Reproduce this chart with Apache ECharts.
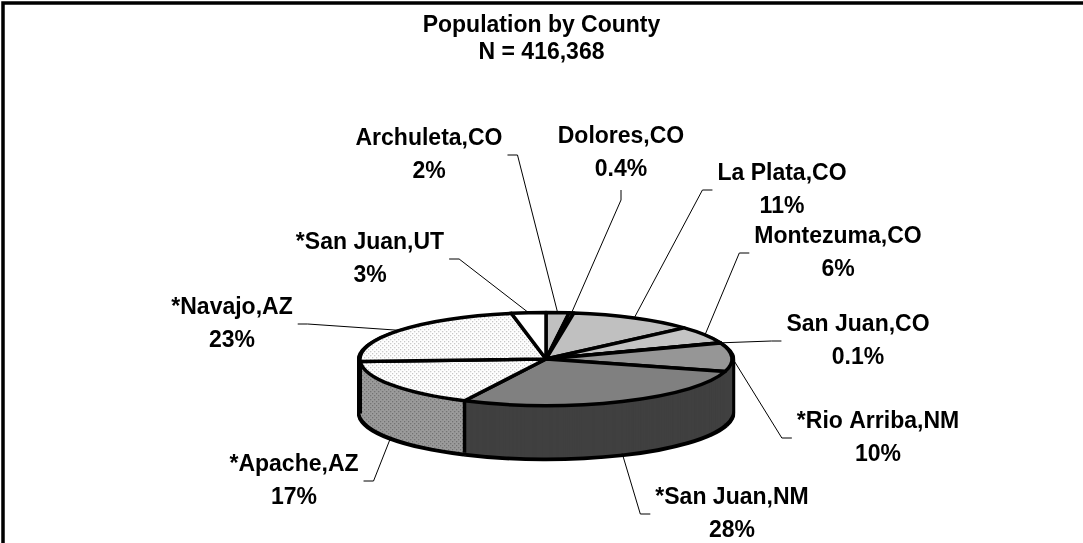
<!DOCTYPE html>
<html>
<head>
<meta charset="utf-8">
<script src="https://cdn.jsdelivr.net/npm/echarts@6/dist/echarts.min.js"></script>
<style>
  html, body { margin: 0; padding: 0; background: #fff; overflow: hidden; }
  .layer { position: absolute; left: 0; top: 0; width: 1083px; height: 543px; }
  /* the pie body is drawn flat and squashed into a tilted disc */
  #body svg { overflow: visible; }
  #body path {
    transform-box: view-box;
    transform-origin: 0 359px;
    transform: scaleY(0.25);
    vector-effect: non-scaling-stroke;
  }
</style>
</head>
<body>
<div id="body" class="layer"></div>
<div id="labels" class="layer"></div>
<script>
  // data
  const counties = ['Archuleta,CO', 'Dolores,CO', 'La Plata,CO', 'Montezuma,CO', 'San Juan,CO',
    '*Rio Arriba,NM', '*San Juan,NM', '*Apache,AZ', '*Navajo,AZ', '*San Juan,UT'];
  const shares = [2, 0.4, 11, 6, 0.1, 10, 28, 17, 23, 3];

  // stippled fill, drawn 4x taller because the body gets squashed
  function stipple(bg, dot) {
    let c = document.createElement('canvas');
    c.width = 4; c.height = 16;
    let ctx = c.getContext('2d');
    ctx.fillStyle = bg; ctx.fillRect(0, 0, 4, 16);
    ctx.fillStyle = dot;
    ctx.fillRect(0, 0, 1, 4);
    ctx.fillRect(2, 8, 1, 4);
    return {image: c, repeat: 'repeat'};
  }
  const lightDots = stipple('#ffffff', '#9a9a9a');
  const greyDots = stipple('#9c9c9c', '#505050');

  // styles
  const topColors = ['#c0c0c0', '#c0c0c0', '#c0c0c0', '#c4c4c4', '#969696',
    '#969696', '#808080', lightDots, lightDots, '#ffffff'];
  const sideColors = ['#808080', '#808080', '#808080', '#808080', '#505050',
    '#404040', '#404040', greyDots, greyDots, '#a0a0a0'];
  // label centres, picked to sit where the original has them
  const labelSpots = [[429, 155], [621, 153], [782, 190], [838, 253], [858, 341],
    [878, 438], [732, 514], [294, 481], [232, 324], [370, 259]];

  const CX = 546, CY = 359, R = 186, TILT = 0.25, DEPTH = 52;
  const FONT = "'Liberation Sans', Arial, sans-serif";

  function sliceData(colors) {
    return counties.map((name, i) => ({name: name, value: shares[i], itemStyle: {color: colors[i]}}));
  }

  function disc(d, radius, colors, extra) {
    return Object.assign({
      type: 'pie',
      center: [CX, CY + d / TILT],
      radius: radius,
      startAngle: 90,
      clockwise: true,
      silent: true,
      label: {show: false},
      labelLine: {show: false},
      emphasis: {disabled: true},
      data: sliceData(colors)
    }, extra || {});
  }

  // body: black outline shell, then the side, then the top face
  const black = counties.map(() => '#000');
  let bodySeries = [];
  for (let d = DEPTH + 3; d >= 0; d--) {
    bodySeries.push(disc(d, R + 3, black, {itemStyle: {borderWidth: 0}}));
  }
  for (let d = DEPTH; d >= 1; d--) {
    bodySeries.push(disc(d, R, sideColors, {itemStyle: {borderWidth: 0}}));
  }
  bodySeries.push(disc(0, R, topColors, {
    itemStyle: {borderColor: '#000', borderWidth: 3.5, borderJoin: 'round'}
  }));

  let bodyChart = echarts.init(document.getElementById('body'), null, {renderer: 'svg'});
  bodyChart.setOption({animation: false, series: bodySeries});

  // labels, leader lines, title and frame
  let labelChart = echarts.init(document.getElementById('labels'));
  labelChart.setOption({
    animation: false,
    title: {
      text: 'Population by County\nN = 416,368',
      left: 'center',
      top: 12,
      padding: [0, 0, 0, 16],
      textStyle: {fontFamily: FONT, fontSize: 23, fontWeight: 'bold', lineHeight: 27, color: '#000'}
    },
    graphic: [{
      id: 'frame',
      type: 'polyline',
      shape: {points: [[3, 543], [3, 3], [1083, 3]]},
      style: {stroke: '#222', lineWidth: 2, fill: null}
    }],
    series: [{
      type: 'pie',
      center: [CX, CY],
      radius: R,
      startAngle: 90,
      clockwise: true,
      silent: true,
      avoidLabelOverlap: false,
      itemStyle: {color: 'rgba(0,0,0,0)', borderWidth: 0},
      emphasis: {disabled: true},
      label: {
        show: true,
        position: 'outside',
        formatter: p => p.name + '\n' + p.value + '%',
        fontFamily: FONT,
        fontSize: 23,
        fontWeight: 'bold',
        lineHeight: 33,
        color: '#000',
        align: 'center'
      },
      labelLine: {show: true, length: 20, length2: 10, lineStyle: {color: '#000', width: 1}},
      labelLayout: function (p) {
        const spot = labelSpots[p.dataIndex];
        const p0 = p.labelLinePoints[0];
        // move the edge point onto the tilted disc (bottom rim for the front half)
        const ex = p0[0];
        const ey = CY + (p0[1] - CY) * TILT + (p0[1] > CY ? DEPTH : 0);
        const hw = p.labelRect.width / 2, hh = p.labelRect.height / 2;
        let a, s;
        if (ex < spot[0] - hw) {
          a = [spot[0] - hw - 5, spot[1]]; s = [a[0] - 10, a[1]];
        } else if (ex > spot[0] + hw) {
          a = [spot[0] + hw + 5, spot[1]]; s = [a[0] + 10, a[1]];
        } else {
          const below = ey > spot[1];
          a = [spot[0], below ? spot[1] + hh + 4 : spot[1] - hh - 4];
          s = [a[0], a[1] + (below ? 10 : -10)];
        }
        return {
          x: spot[0], y: spot[1], align: 'center', verticalAlign: 'middle',
          labelLinePoints: [[ex, ey], s, a]
        };
      },
      data: counties.map((name, i) => ({name: name, value: shares[i]}))
    }]
  });

  // seams down the side wall, at the slice boundaries the pie layout gives on the front half
  let pieData = labelChart.getModel().getSeriesByIndex(0).getData();
  let seams = [];
  for (let i = 0; i < pieData.count(); i++) {
    const ang = pieData.getItemLayout(i).endAngle;
    if (Math.sin(ang) > 0.02) {
      const x = CX + R * Math.cos(ang);
      const y = CY + R * Math.sin(ang) * TILT;
      seams.push({
        type: 'line',
        shape: {x1: x, y1: y, x2: x, y2: y + DEPTH},
        style: {stroke: '#000', lineWidth: 3.5}
      });
    }
  }
  labelChart.setOption({graphic: seams});
</script>
</body>
</html>
